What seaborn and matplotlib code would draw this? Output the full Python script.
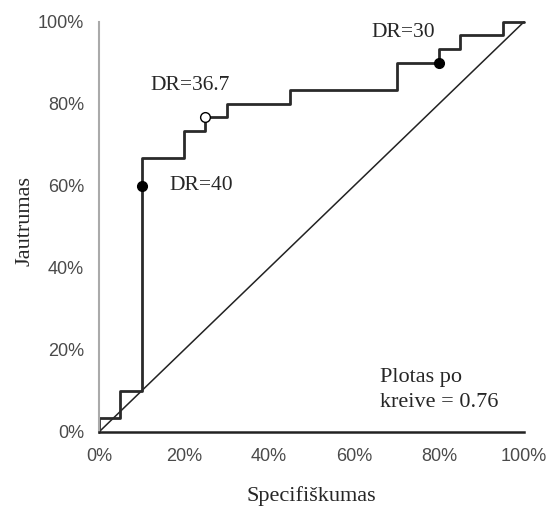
import matplotlib
matplotlib.use("Agg")
import matplotlib.pyplot as plt
import seaborn as sns

# ROC curve corners (steps-pre), in %
fpr = [0, 5, 10, 20, 25, 30, 45, 70, 80, 85, 95, 100]
tpr = [0, 3.3, 10, 66.7, 73.3, 76.7, 80, 83.3, 90, 93.3, 96.7, 100]

# highlighted cut-off points
cut_x = [10, 25, 80]
cut_y = [60, 76.7, 90]
cut_labels = ["DR=40", "DR=36.7", "DR=30"]
cut_fill = ["black", "white", "black"]

ticks = [0, 20, 40, 60, 80, 100]
tick_labels = ["0%", "20%", "40%", "60%", "80%", "100%"]

sns.set_style("white")
plt.rcParams["font.family"] = ["Liberation Sans", "DejaVu Sans"]
serif = ["Liberation Serif", "DejaVu Serif"]

fig = plt.figure(figsize=(5.47, 5.07), dpi=100)
ax = fig.add_axes([0.181, 0.148, 0.777, 0.809])

# chance line
sns.lineplot(x=[0, 100], y=[0, 100], color="#222222", linewidth=1.1,
             ax=ax, clip_on=False)
# ROC step curve
sns.lineplot(x=fpr, y=tpr, sort=False, estimator=None, drawstyle="steps-pre",
             color="#2a2a2a", linewidth=2.0, ax=ax, clip_on=False)

for x, y, fc in zip(cut_x, cut_y, cut_fill):
    ax.plot(x, y, marker="o", markersize=7, markerfacecolor=fc,
            markeredgecolor="black", markeredgewidth=1.0, zorder=5, clip_on=False)

ax.text(16.5, 60, cut_labels[0], family=serif, fontsize=15.5, va="center", ha="left")
ax.text(12, 84.5, cut_labels[1], family=serif, fontsize=15.5, va="center", ha="left")
ax.text(64.2, 97.5, cut_labels[2], family=serif, fontsize=15.5, va="center", ha="left")
ax.text(66.1, 10.2, "Plotas po\nkreive = 0.76", family=serif, fontsize=16,
        va="center", ha="left", linespacing=1.45)

ax.set_xlim(0, 100)
ax.set_ylim(0, 100)
ax.set_xticks(ticks)
ax.set_xticklabels(tick_labels)
ax.set_yticks(ticks)
ax.set_yticklabels(tick_labels)
ax.tick_params(axis="both", direction="out", length=4.3, width=1, color="#888888",
               labelsize=13, labelcolor="#4a4a4a", pad=6.5)
ax.tick_params(axis="x", pad=7.5)

for side in ["top", "right"]:
    ax.spines[side].set_visible(False)
ax.spines["left"].set_color("#aaaaaa")
ax.spines["left"].set_linewidth(1.5)
ax.spines["bottom"].set_color("#222222")
ax.spines["bottom"].set_linewidth(1.8)

ax.set_xlabel("Specifiškumas", family=serif, fontsize=16, labelpad=15)
ax.set_ylabel("Jautrumas", family=serif, fontsize=16)
ax.yaxis.set_label_coords(-0.152, 0.515)

fig.savefig("out.png", dpi=100)
